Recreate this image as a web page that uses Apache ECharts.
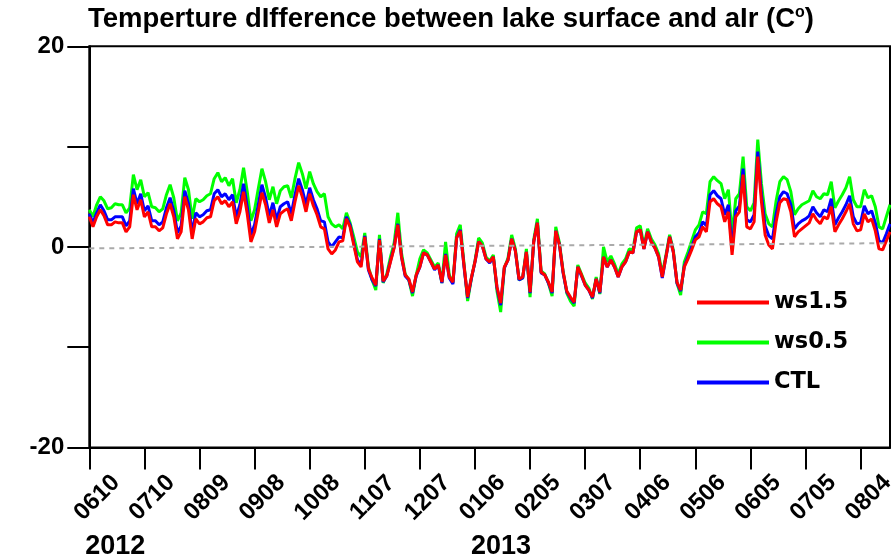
<!DOCTYPE html>
<html>
<head>
<meta charset="utf-8">
<script src="https://cdn.jsdelivr.net/npm/echarts@6/dist/echarts.min.js"></script>
<style>
  html, body { margin: 0; padding: 0; background: #fff; }
  #chart { width: 891px; height: 557px; }
</style>
</head>
<body>
<div id="chart"></div>
<script>
// Samples every 2 days starting 2012-06-10, temperature difference lake surface - air (°C)
const startDay = '2012-06-10';
const stepDays = 2;

const ws15 = [
  3.0, 2.0, 3.0, 3.7, 3.1, 2.2, 2.2, 2.5, 2.4, 2.4, 1.5, 2.0, 5.2, 3.7, 4.7,
  3.0, 3.5, 2.0, 2.0, 1.6, 1.9, 3.3, 4.3, 3.0, 0.8, 1.5, 5.0, 3.7, 0.8, 2.8,
  2.3, 2.5, 2.9, 3.0, 4.6, 5.0, 4.3, 4.6, 4.0, 4.5, 2.3, 3.5, 5.5, 3.3, 0.5,
  1.5, 3.5, 5.4, 4.2, 2.4, 3.7, 2.0, 3.3, 3.6, 3.8, 2.6, 4.5, 6.1, 5.0, 3.5,
  5.3, 4.1, 3.2, 2.0, 1.8, -0.2, -0.7, -0.3, 0.5, 0.6, 2.8, 2.0, 0.2, -1.5, -2.0,
  1.0, -2.2, -3.1, -3.8, 0.7, -3.4, -2.9, -1.5, -0.1, 2.2, -1.0, -2.8, -3.2, -4.5, -2.8,
  -2.0, -0.6, -0.8, -1.5, -2.2, -1.8, -3.5, -0.8, -3.0, -3.5, 0.9, 1.6, -1.8, -5.0, -3.1,
  -1.5, 0.5, 0.1, -1.2, -1.5, -1.0, -4.0, -5.6, -2.0, -1.3, 0.8, -0.4, -3.2, -3.0, -0.5,
  -4.5, 0.5, 2.4, -2.5, -2.8, -3.5, -4.5, 1.6, 0.2, -2.5, -4.4, -5.0, -5.5, -2.0, -2.8,
  -3.8, -4.3, -5.0, -3.2, -4.5, -1.0, -2.0, -1.3, -2.0, -3.0, -2.0, -1.5, -0.5, -0.6, 1.5,
  1.7, -0.2, 1.5, 0.5, -0.1, -1.0, -3.0, -1.0, 1.0, -0.5, -3.5, -4.3, -2.0, -1.2, -0.3,
  0.7, 1.0, 2.0, 1.5, 4.5, 4.8, 4.3, 4.0, 2.5, 3.5, -0.8, 3.0, 3.5, 7.2, 2.0,
  1.8, 2.5, 9.0, 4.5, 1.2, 0.2, -0.2, 2.5, 4.4, 4.8, 4.7, 3.5, 1.0, 1.5, 1.8,
  2.1, 2.4, 3.3, 2.7, 2.3, 3.0, 2.8, 4.0, 1.5, 2.2, 2.8, 3.5, 4.3, 2.3, 1.6,
  1.7, 3.3, 2.5, 2.8, 1.6, -0.2, -0.3, 0.6, 1.5
];

const ws05 = [
  3.7, 3.0, 4.2, 5.0, 4.6, 3.8, 3.9, 4.3, 4.2, 4.2, 3.4, 3.9, 7.2, 5.7, 6.7,
  5.0, 5.4, 4.0, 3.9, 3.5, 3.8, 5.2, 6.2, 4.9, 2.6, 3.4, 6.9, 5.7, 2.8, 4.8,
  4.5, 4.7, 5.1, 5.3, 6.8, 7.4, 6.5, 6.9, 6.1, 6.8, 4.4, 5.7, 7.9, 5.5, 2.6,
  3.7, 5.8, 7.8, 6.5, 4.7, 6.0, 4.3, 5.6, 6.0, 6.1, 4.9, 6.8, 8.4, 7.3, 5.8,
  7.5, 6.3, 5.5, 5.0, 5.3, 3.0, 2.3, 2.0, 2.2, 1.8, 3.4, 2.4, 1.0, -0.5, -1.0,
  1.4, -2.0, -3.3, -4.3, 1.2, -3.6, -2.7, -1.0, 0.4, 3.4, -0.6, -2.7, -3.3, -4.9, -2.8,
  -1.2, -0.3, -0.6, -1.3, -2.0, -1.6, -3.6, 0.5, -2.8, -3.6, 1.3, 2.2, -1.6, -5.4, -3.2,
  -1.4, 0.9, 0.4, -1.0, -1.4, -0.8, -4.4, -6.5, -2.1, -1.1, 1.2, -0.2, -3.3, -3.1, -0.2,
  -5.0, 0.7, 2.8, -2.4, -2.7, -3.6, -4.9, 2.0, 0.4, -2.4, -4.6, -5.4, -5.9, -1.8, -2.7,
  -3.6, -4.1, -5.2, -3.0, -4.7, 0.0, -1.5, -0.9, -1.7, -2.7, -1.7, -1.2, -0.2, -0.3, 1.9,
  2.1, 0.1, 1.8, 0.8, 0.2, -0.7, -2.7, -0.8, 1.2, -0.3, -3.6, -4.8, -1.5, -0.5, 0.6,
  1.7, 2.2, 3.5, 3.3, 6.5, 7.0, 6.6, 6.3, 4.8, 5.7, 1.2, 4.8, 5.3, 9.0, 4.0,
  3.6, 4.4, 10.7, 6.3, 3.3, 2.3, 2.0, 4.6, 6.5, 7.0, 6.7, 5.5, 3.2, 3.8, 4.2,
  4.4, 4.6, 5.6, 5.0, 4.8, 5.3, 5.2, 6.5, 3.9, 4.6, 5.2, 5.9, 7.0, 4.7, 4.0,
  4.0, 5.7, 4.9, 5.1, 4.0, 2.0, 1.8, 3.0, 4.2
];

const ctl = [
  3.3, 2.4, 3.4, 4.2, 3.6, 2.7, 2.7, 3.0, 3.0, 3.0, 2.1, 2.6, 5.8, 4.3, 5.3,
  3.6, 4.1, 2.6, 2.6, 2.2, 2.5, 3.9, 4.9, 3.6, 1.4, 2.1, 5.6, 4.3, 1.4, 3.4,
  3.0, 3.2, 3.6, 3.7, 5.3, 5.7, 5.0, 5.3, 4.7, 5.2, 3.0, 4.2, 6.3, 4.0, 1.2,
  2.2, 4.2, 6.2, 4.9, 3.1, 4.4, 2.7, 4.0, 4.3, 4.5, 3.3, 5.2, 6.8, 5.7, 4.2,
  5.9, 4.7, 3.8, 2.6, 2.5, 0.5, 0.0, 0.5, 1.0, 0.9, 3.0, 2.2, 0.4, -1.3, -1.8,
  1.1, -2.3, -3.3, -3.9, 0.8, -3.5, -2.9, -1.4, 0.0, 2.3, -1.0, -2.9, -3.3, -4.6, -2.9,
  -2.0, -0.6, -0.8, -1.5, -2.3, -1.8, -3.6, -0.7, -3.1, -3.7, 0.9, 1.7, -1.9, -5.1, -3.2,
  -1.5, 0.5, 0.1, -1.2, -1.6, -1.0, -4.1, -5.8, -2.1, -1.3, 0.8, -0.4, -3.3, -3.1, -0.5,
  -4.6, 0.5, 2.4, -2.6, -2.8, -3.6, -4.6, 1.6, 0.2, -2.6, -4.5, -5.1, -5.6, -2.0, -2.9,
  -3.8, -4.3, -5.1, -3.2, -4.6, -1.0, -2.0, -1.3, -2.0, -3.0, -2.0, -1.5, -0.5, -0.6, 1.5,
  1.7, -0.2, 1.5, 0.5, -0.1, -1.0, -3.1, -1.0, 1.0, -0.5, -3.6, -4.4, -1.9, -1.0, 0.0,
  1.0, 1.4, 2.5, 2.1, 5.2, 5.6, 5.1, 4.8, 3.2, 4.2, -0.2, 3.6, 4.1, 7.8, 2.7,
  2.5, 3.2, 9.5, 5.2, 2.1, 1.1, 0.8, 3.3, 5.0, 5.5, 5.3, 4.2, 1.8, 2.3, 2.6,
  2.8, 3.1, 4.0, 3.4, 3.0, 3.7, 3.5, 4.8, 2.2, 2.9, 3.5, 4.2, 5.1, 3.0, 2.3,
  2.4, 4.1, 3.3, 3.6, 2.4, 0.6, 0.4, 1.3, 2.3
];

// Linear trend line end values (first and last sample)
const trendEnds = [-0.15, 0.37];

// Tick labels every 30 days (15 samples)
const tickLabels = ['0610', '0710', '0809', '0908', '1008', '1107', '1207',
  '0106', '0205', '0307', '0406', '0506', '0605', '0705', '0804'];
const tickEvery = 15;
const yearLabels = { 0: '2012', 105: '2013' };

const seriesNames = ['ws1.5', 'ws0.5', 'CTL'];
const seriesColors = ['#ff0000', '#00ff00', '#0000ff'];

// Category dates built from the start day and step
const t0 = Date.parse(startDay + 'T00:00:00Z');
const dates = ws15.map((_, i) => new Date(t0 + i * stepDays * 86400000).toISOString().slice(0, 10));

const sans = 'Liberation Sans, Arial, Helvetica, sans-serif';
const wide = 'DejaVu Sans, Verdana, sans-serif';
const isTick = (idx) => idx % tickEvery === 0;

const chart = echarts.init(document.getElementById('chart'), null, { renderer: 'canvas', devicePixelRatio: 1 });

const lineSeries = (name, data, color, z) => ({
  name, type: 'line', data, showSymbol: false, symbol: 'none',
  lineStyle: { color, width: 3 }, itemStyle: { color }, z,
  xAxisIndex: 0, yAxisIndex: 0, silent: true
});

chart.setOption({
  animation: false,
  backgroundColor: '#ffffff',
  title: {
    text: 'Temperture dIfference between lake surface and aIr (C{sup|o})',
    left: 88, top: 5, padding: 0,
    textStyle: {
      fontFamily: sans, fontSize: 27.5, fontWeight: 'bold', color: '#000',
      rich: { sup: { fontFamily: sans, fontSize: 16, fontWeight: 'bold', color: '#000', verticalAlign: 'top', padding: [0, 0, 11, 0] } }
    }
  },
  legend: {
    data: seriesNames,
    orient: 'vertical',
    left: 697, top: 291, padding: 0,
    itemWidth: 72, itemHeight: 4, itemGap: 17,
    icon: 'rect',
    textStyle: { fontFamily: wide, fontSize: 22.5, fontWeight: 'bold', color: '#000' },
    selectedMode: false
  },
  grid: {
    left: 89.3, right: 1, top: 46.3, bottom: 109.5,
    show: true, borderColor: '#000', borderWidth: 2, backgroundColor: 'transparent',
    containLabel: false, outerBoundsMode: 'none'
  },
  xAxis: [{
    type: 'category', data: dates, boundaryGap: false,
    axisLine: { show: true, onZero: false, lineStyle: { color: '#000', width: 2 } },
    axisTick: { show: true, inside: false, length: 22, interval: (idx) => isTick(idx), lineStyle: { color: '#000', width: 2 } },
    axisLabel: {
      interval: (idx) => isTick(idx),
      formatter: (v, idx) => tickLabels[Math.round(idx / tickEvery)],
      rotate: 45, align: 'center', verticalAlign: 'middle',
      padding: [0, 0, 0, 22], margin: 58,
      hideOverlap: false,
      fontFamily: sans, fontSize: 24, fontWeight: 'bold', color: '#000'
    },
    splitLine: { show: false }
  }, {
    type: 'category', data: dates, boundaryGap: false, position: 'bottom',
    axisLine: { show: false, onZero: false }, axisTick: { show: false }, splitLine: { show: false },
    axisLabel: {
      interval: (idx) => yearLabels[idx] !== undefined,
      formatter: (v, idx) => yearLabels[idx] || '',
      align: 'left', verticalAlign: 'middle', margin: 99,
      padding: [0, 0, 0, -4],
      fontFamily: sans, fontSize: 27, fontWeight: 'bold', color: '#000'
    }
  }],
  yAxis: {
    type: 'value', min: -20, max: 20, interval: 10,
    axisLine: { show: true, onZero: false, lineStyle: { color: '#000', width: 2 } },
    axisTick: { show: true, inside: false, length: 22, lineStyle: { color: '#000', width: 2 } },
    axisLabel: {
      formatter: (v) => (v % 20 === 0 ? String(v) : ''),
      margin: 25,
      fontFamily: sans, fontSize: 24, fontWeight: 'bold', color: '#000'
    },
    splitLine: { show: false }
  },
  series: [
    lineSeries(seriesNames[1], ws05, seriesColors[1], 2),
    lineSeries(seriesNames[2], ctl, seriesColors[2], 3),
    lineSeries(seriesNames[0], ws15, seriesColors[0], 4),
    {
      name: 'trend', type: 'line', showSymbol: false, symbol: 'none', silent: true, z: 5,
      data: [[dates[0], trendEnds[0]], [dates[dates.length - 1], trendEnds[1]]],
      lineStyle: { color: '#aaaaaa', width: 2, type: [5, 5] }
    }
  ]
});
</script>
</body>
</html>
